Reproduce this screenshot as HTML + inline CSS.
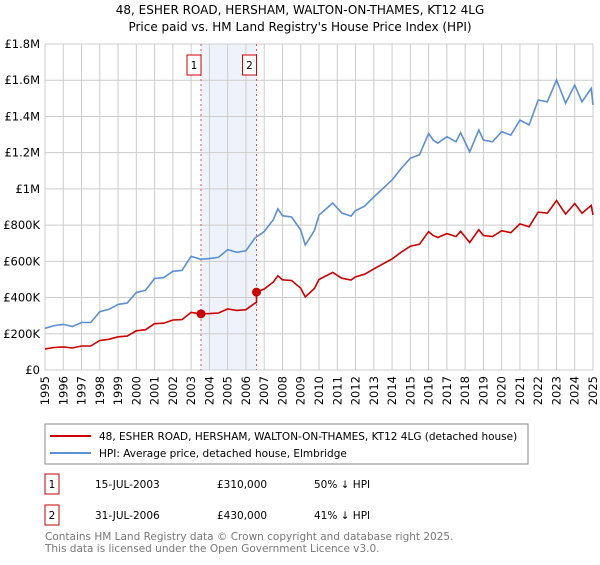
<!DOCTYPE html>
<html><head><meta charset="utf-8"><style>
body{margin:0;background:#fff;font-family:"Liberation Sans","DejaVu Sans",sans-serif;}
svg text{font-family:"DejaVu Sans","Liberation Sans",sans-serif;}
</style></head><body>
<svg id="c" width="600" height="560" xmlns="http://www.w3.org/2000/svg">
<text x="300" y="14" text-anchor="middle" font-size="12">48, ESHER ROAD, HERSHAM, WALTON-ON-THAMES, KT12 4LG</text>
<text x="300" y="31" text-anchor="middle" font-size="12">Price paid vs. HM Land Registry's House Price Index (HPI)</text>
<g id="plot"></g>
<rect x="45" y="424" width="483" height="40" fill="#fff" stroke="#888"/>
<line x1="50" y1="436" x2="91" y2="436" stroke="#cc0000" stroke-width="2"/>
<text x="99" y="440" font-size="10.5">48, ESHER ROAD, HERSHAM, WALTON-ON-THAMES, KT12 4LG (detached house)</text>
<line x1="50" y1="453" x2="91" y2="453" stroke="#5b8fd4" stroke-width="2"/>
<text x="99" y="457" font-size="10.5">HPI: Average price, detached house, Elmbridge</text>
<g>
<rect x="45" y="474" width="14" height="20" fill="none" stroke="#cc0000"/>
<text x="52" y="488" text-anchor="middle" font-size="10.5">1</text>
<text x="95" y="488" font-size="10.5">15-JUL-2003</text>
<text x="217" y="488" font-size="10.5">£310,000</text>
<text x="314" y="488" font-size="10.5">50% ↓ HPI</text></g>
<g>
<rect x="45" y="505" width="14" height="20" fill="none" stroke="#cc0000"/>
<text x="52" y="519" text-anchor="middle" font-size="10.5">2</text>
<text x="95" y="519" font-size="10.5">31-JUL-2006</text>
<text x="217" y="519" font-size="10.5">£430,000</text>
<text x="314" y="519" font-size="10.5">41% ↓ HPI</text></g>
<text x="45" y="540" font-size="10.5" fill="#777">Contains HM Land Registry data © Crown copyright and database right 2025.</text>
<text x="45" y="552" font-size="10.5" fill="#777">This data is licensed under the Open Government Licence v3.0.</text>
</svg>
<script>
const hpiYears=[1995,1995.5,1996,1996.5,1997,1997.5,1998,1998.5,1999,1999.5,2000,2000.5,2001,2001.5,2002,2002.5,2003,2003.5,2004,2004.5,2005,2005.5,2006,2006.5,2007,2007.5,2007.75,2008,2008.5,2009,2009.25,2009.75,2010,2010.75,2011.25,2011.75,2012,2012.5,2013,2014,2014.5,2015,2015.5,2016,2016.25,2016.5,2017,2017.5,2017.75,2018.25,2018.75,2019,2019.5,2020,2020.5,2021,2021.5,2022,2022.5,2022.75,2023,2023.5,2024,2024.4,2024.9,2025];
const hpiValues=[230,245,252,240,262,262,322,335,362,370,428,440,505,510,545,550,628,612,615,622,665,650,658,730,765,830,890,852,845,773,690,770,855,922,867,850,880,905,955,1049,1113,1169,1188,1306,1270,1252,1288,1260,1310,1204,1325,1270,1260,1316,1297,1380,1353,1491,1481,1540,1601,1473,1573,1481,1555,1464];
const saleYears=[2003.54,2006.58];
const salePrices=[310,430];
const saleLabels=["1","2"];
const yTicks=[0,200,400,600,800,1000,1200,1400,1600,1800];
const yTickLabels=["£0","£200K","£400K","£600K","£800K","£1M","£1.2M","£1.4M","£1.6M","£1.8M"];
const xTicks=[1995,1996,1997,1998,1999,2000,2001,2002,2003,2004,2005,2006,2007,2008,2009,2010,2011,2012,2013,2014,2015,2016,2017,2018,2019,2020,2021,2022,2023,2024,2025];
const X0=45,X1=593,Y0=370,Y1=44;
const xs=y=>X0+(y-1995)/30*(X1-X0);
const ys=v=>Y0-v/1800*(Y0-Y1);
const NS="http://www.w3.org/2000/svg";
const g=document.getElementById('plot');
function mk(t,a){const e=document.createElementNS(NS,t);for(const k in a)e.setAttribute(k,a[k]);g.appendChild(e);return e;}
let sh=mk('rect',{x:xs(saleYears[0]),y:Y1,width:xs(saleYears[1])-xs(saleYears[0]),height:Y0-Y1,fill:'#eef3fb'});


yTicks.forEach((v,i)=>{
 let l=mk('line',{x1:X0,x2:X1,y1:ys(v),y2:ys(v),stroke:'#ccc'});
 
 
 let t=mk('text',{x:X0-5,y:ys(v)+4,'text-anchor':'end','font-size':'11.5'});t.textContent=yTickLabels[i];
 
 
});
xTicks.forEach(v=>{
 let l=mk('line',{x1:xs(v),x2:xs(v),y1:Y1,y2:Y0,stroke:'#ccc'});
 
 
 let t=mk('text',{x:0,y:0,'text-anchor':'end','font-size':'11.5',transform:`translate(${xs(v)+4},${Y0+6}) rotate(-90)`});t.textContent=v;
 
 
});
function interp(y){for(let i=0;i<hpiYears.length-1;i++){if(y<=hpiYears[i+1]){const f=(y-hpiYears[i])/(hpiYears[i+1]-hpiYears[i]);return hpiValues[i]+f*(hpiValues[i+1]-hpiValues[i]);}}return hpiValues[hpiValues.length-1];}
saleYears.forEach((y,i)=>{
 let l=mk('line',{x1:xs(y),x2:xs(y),y1:Y1,y2:Y0,stroke:'#e05050','stroke-dasharray':'2,3'});
 
 
 let r=mk('rect',{x:xs(y)-14,y:55,width:14,height:20,fill:'#fff',stroke:'#cc0000'});
 
 
 let t=mk('text',{x:xs(y)-7,y:69,'text-anchor':'middle','font-size':'10.5'});t.textContent=saleLabels[i];
 
 
});
let hp=hpiYears.map((y,i)=>xs(y).toFixed(1)+','+ys(hpiValues[i]).toFixed(1)).join(' ');
let hl=mk('polyline',{points:hp,fill:'none',stroke:'#5b8fd4','stroke-width':1.6});


// price line: HPI scaled to each sale
const f0=salePrices[0]/interp(saleYears[0]),f1=salePrices[1]/interp(saleYears[1]);
let pts=[];
hpiYears.forEach((y,i)=>{
 if(y>saleYears[0]&&pts.length&&pts._a==null){}
 if(y<saleYears[1]){pts.push([y,hpiValues[i]*f0]);}
});
pts.push([saleYears[1],interp(saleYears[1])*f0]);
pts.push([saleYears[1],salePrices[1]]);
hpiYears.forEach((y,i)=>{if(y>saleYears[1])pts.push([y,hpiValues[i]*f1]);});
let pl=mk('polyline',{points:pts.map(p=>xs(p[0]).toFixed(1)+','+ys(p[1]).toFixed(1)).join(' '),fill:'none',stroke:'#cc0000','stroke-width':1.6});


saleYears.forEach((y,i)=>{
 let d=mk('circle',{cx:xs(y),cy:ys(salePrices[i]),r:4.5,fill:'#cc0000'});
 
 
});
</script>
</body></html>
